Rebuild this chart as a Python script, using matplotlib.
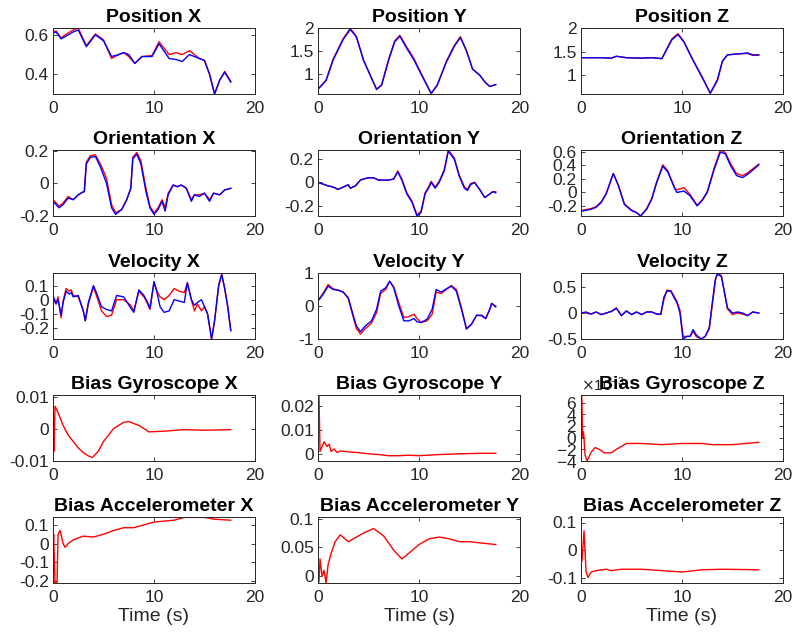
#!/usr/bin/env python3
#
# plot.py - filter states vs. reference, 5x3 grid

import matplotlib
matplotlib.use('Agg')
import matplotlib.pyplot as plt
from matplotlib.ticker import ScalarFormatter

plt.rcParams['font.family'] = ['Liberation Sans', 'DejaVu Sans']
plt.rcParams['axes.unicode_minus'] = False

# ---- data ----
# red = estimate, blue = reference
t_px = [0, 0.3, 0.8, 1.5, 2.0, 2.5, 3.3, 4.2, 5.0, 5.8, 6.5, 7.0, 7.5, 8.1, 8.8, 9.8,
        10.5, 11.5, 12.2, 12.8, 13.5, 14.5, 15.0, 15.5, 16.0, 16.5, 17.0, 17.6]
px_true = [0.61, 0.615, 0.58, 0.60, 0.615, 0.625, 0.54, 0.60, 0.57, 0.49, 0.50, 0.51, 0.50,
           0.455, 0.49, 0.49, 0.555, 0.48, 0.475, 0.465, 0.50, 0.48, 0.47, 0.40, 0.30,
           0.37, 0.41, 0.36]
px_est = [0.615, 0.62, 0.585, 0.61, 0.625, 0.635, 0.545, 0.605, 0.575, 0.48, 0.50, 0.51,
          0.49, 0.455, 0.49, 0.495, 0.565, 0.50, 0.51, 0.50, 0.52, 0.48, 0.47, 0.40, 0.30,
          0.37, 0.415, 0.365]

t_py = [0, 0.8, 1.5, 2.5, 3.2, 3.8, 4.5, 5.2, 5.8, 6.3, 7.0, 7.6, 8.1, 8.8, 9.5, 10.3,
        11.2, 11.8, 12.7, 13.5, 14.1, 14.7, 15.3, 16.0, 16.6, 17.0, 17.6]
py_true = [0.66, 0.85, 1.3, 1.75, 1.97, 1.8, 1.3, 0.95, 0.66, 0.75, 1.3, 1.7, 1.82, 1.55,
           1.3, 0.95, 0.57, 0.75, 1.25, 1.6, 1.79, 1.5, 1.1, 0.97, 0.80, 0.72, 0.76]
py_est = [0.66, 0.86, 1.32, 1.77, 1.99, 1.82, 1.3, 0.95, 0.65, 0.76, 1.32, 1.72, 1.84,
          1.58, 1.33, 0.97, 0.56, 0.74, 1.27, 1.62, 1.81, 1.5, 1.1, 0.97, 0.80, 0.72, 0.76]

t_pz = [0, 1, 2, 3, 3.5, 4.5, 6, 7, 8, 8.5, 9.0, 9.6, 10.2, 11.0, 12.0, 12.8, 13.5, 14.0,
        14.5, 15.5, 16.5, 17.0, 17.6]
pz_true = [1.37, 1.37, 1.37, 1.36, 1.40, 1.37, 1.36, 1.37, 1.35, 1.55, 1.75, 1.86, 1.70,
           1.35, 0.95, 0.62, 0.90, 1.30, 1.43, 1.45, 1.47, 1.43, 1.43]
pz_est = [1.37, 1.37, 1.37, 1.36, 1.40, 1.37, 1.36, 1.37, 1.35, 1.56, 1.77, 1.88, 1.71,
          1.36, 0.96, 0.61, 0.88, 1.29, 1.43, 1.45, 1.46, 1.42, 1.42]

t_ox = [0, 0.6, 1.0, 1.5, 2.0, 2.5, 2.9, 3.1, 3.3, 3.7, 4.2, 4.7, 5.3, 5.8, 6.2, 6.8,
        7.3, 7.7, 7.9, 8.3, 8.7, 9.2, 9.6, 10.0, 10.4, 10.8, 11.1, 11.4, 11.9, 12.3,
        12.7, 13.2, 13.7, 14.0, 14.5, 15.0, 15.5, 15.9, 16.5, 17.0, 17.6]
ox_true = [-0.11, -0.15, -0.13, -0.09, -0.10, -0.07, -0.055, -0.05, 0.12, 0.16, 0.165,
           0.10, 0.0, -0.15, -0.19, -0.16, -0.10, -0.03, 0.15, 0.18, 0.12, -0.05, -0.15,
           -0.19, -0.16, -0.11, -0.17, -0.07, -0.01, -0.02, -0.01, -0.03, -0.11, -0.07,
           -0.08, -0.06, -0.11, -0.06, -0.07, -0.04, -0.03]
ox_est = [-0.10, -0.14, -0.12, -0.08, -0.10, -0.07, -0.055, -0.05, 0.13, 0.17, 0.175,
          0.12, 0.03, -0.13, -0.18, -0.16, -0.10, -0.03, 0.16, 0.19, 0.14, -0.03, -0.14,
          -0.18, -0.15, -0.10, -0.15, -0.06, -0.01, -0.02, -0.01, -0.03, -0.10, -0.07,
          -0.07, -0.06, -0.10, -0.06, -0.07, -0.04, -0.03]

t_oy = [0, 1.0, 1.5, 2.0, 2.5, 3.0, 3.2, 3.7, 4.2, 4.5, 5.0, 5.5, 6.0, 7.0, 7.5, 7.9,
        8.3, 8.8, 9.3, 9.8, 10.2, 10.6, 11.0, 11.2, 11.6, 12.0, 12.5, 12.9, 13.5, 14.0,
        14.5, 14.8, 15.1, 15.5, 16.0, 16.5, 17.0, 17.3, 17.6]
oy_true = [0.0, -0.03, -0.04, -0.06, -0.04, -0.02, -0.05, -0.03, 0.02, 0.03, 0.04, 0.04,
           0.02, 0.02, 0.03, 0.09, 0.02, -0.10, -0.17, -0.29, -0.26, -0.10, -0.04, 0.0,
           -0.05, 0.0, 0.10, 0.27, 0.20, 0.05, -0.05, -0.07, -0.02, 0.0, -0.06, -0.13,
           -0.10, -0.08, -0.09]
oy_est = [0.0, -0.03, -0.04, -0.06, -0.04, -0.02, -0.05, -0.03, 0.02, 0.03, 0.04, 0.04,
          0.02, 0.02, 0.03, 0.10, 0.03, -0.09, -0.16, -0.28, -0.25, -0.09, -0.03, 0.01,
          -0.04, 0.01, 0.11, 0.28, 0.21, 0.06, -0.04, -0.06, -0.01, 0.0, -0.06, -0.13,
          -0.10, -0.08, -0.08]

t_oz = [0, 1.0, 1.5, 2.0, 2.5, 3.2, 3.7, 4.3, 5.0, 5.5, 5.9, 6.5, 7.0, 7.5, 8.1, 8.6,
        9.3, 9.5, 10.2, 10.8, 11.5, 12.0, 12.5, 13.2, 13.8, 14.3, 14.8, 15.4, 16.0, 16.5,
        17.0, 17.6]
oz_true = [-0.28, -0.25, -0.22, -0.15, -0.02, 0.28, 0.10, -0.18, -0.27, -0.30, -0.35,
           -0.25, -0.10, 0.15, 0.39, 0.30, 0.05, 0.0, 0.02, -0.05, -0.20, -0.12, 0.0,
           0.35, 0.60, 0.57, 0.40, 0.25, 0.22, 0.27, 0.33, 0.41]
oz_est = [-0.27, -0.24, -0.21, -0.14, -0.01, 0.28, 0.11, -0.17, -0.26, -0.30, -0.35,
          -0.24, -0.09, 0.16, 0.41, 0.32, 0.06, 0.04, 0.07, -0.03, -0.19, -0.11, 0.01,
          0.37, 0.63, 0.59, 0.43, 0.28, 0.25, 0.29, 0.35, 0.42]

t_vx = [0, 0.3, 0.5, 0.8, 1.0, 1.3, 1.6, 1.8, 2.0, 2.5, 3.0, 3.2, 3.5, 4.0, 4.3, 4.8,
        5.3, 5.8, 6.3, 7.0, 7.7, 8.0, 8.5, 9.0, 9.3, 9.6, 10.0, 10.3, 10.6, 11.0, 11.5,
        12.0, 12.5, 13.0, 13.3, 13.7, 14.0, 14.3, 14.7, 15.0, 15.3, 15.7, 16.0, 16.4,
        16.7, 17.0, 17.3, 17.6]
vx_true = [0.03, -0.03, 0.0, -0.11, -0.02, 0.06, 0.04, 0.05, 0.02, 0.03, -0.08, -0.15,
           -0.02, 0.10, 0.05, -0.05, -0.07, -0.08, 0.03, 0.02, -0.06, -0.09, 0.07, 0.03,
           -0.01, -0.06, 0.13, 0.05, -0.05, -0.09, -0.08, 0.0, -0.01, -0.02, 0.12, 0.0,
           -0.04, -0.02, 0.0, -0.05, -0.10, -0.28, -0.15, 0.10, 0.18, 0.08, -0.05, -0.22]
vx_est = [0.0, -0.03, 0.02, -0.13, -0.01, 0.08, 0.06, 0.07, 0.03, 0.02, -0.08, -0.15,
          -0.03, 0.09, 0.03, -0.08, -0.12, -0.11, 0.0, 0.0, -0.04, -0.08, 0.06, 0.02,
          -0.02, -0.07, 0.12, 0.06, 0.02, 0.0, 0.03, 0.08, 0.06, 0.05, 0.12, 0.0, -0.08,
          -0.03, -0.08, -0.05, -0.10, -0.28, -0.15, 0.10, 0.18, 0.08, -0.05, -0.22]

t_vy = [0, 0.5, 1.0, 1.5, 2.0, 2.5, 3.0, 3.5, 3.8, 4.2, 4.7, 5.3, 5.8, 6.2, 6.7, 7.1,
        7.5, 8.0, 8.5, 9.0, 9.5, 9.8, 10.2, 10.8, 11.3, 11.7, 12.2, 12.7, 13.2, 13.7,
        14.2, 14.7, 15.2, 15.7, 16.2, 16.6, 17.0, 17.2, 17.6]
vy_true = [0.15, 0.35, 0.60, 0.50, 0.48, 0.42, 0.25, -0.30, -0.60, -0.78, -0.60, -0.45,
           -0.10, 0.45, 0.55, 0.75, 0.55, 0.0, -0.45, -0.45, -0.38, -0.48, -0.50, -0.40,
           -0.10, 0.50, 0.42, 0.52, 0.60, 0.45, -0.10, -0.70, -0.55, -0.28, -0.28, -0.38,
           -0.10, 0.08, -0.03]
vy_est = [0.17, 0.38, 0.65, 0.52, 0.48, 0.42, 0.22, -0.35, -0.68, -0.85, -0.68, -0.52,
          -0.20, 0.38, 0.50, 0.75, 0.58, 0.10, -0.35, -0.32, -0.25, -0.38, -0.50, -0.45,
          -0.25, 0.42, 0.38, 0.50, 0.62, 0.50, -0.05, -0.68, -0.55, -0.28, -0.30, -0.38,
          -0.12, 0.08, 0.0]

t_vz = [0, 0.5, 1.0, 1.5, 2.0, 2.5, 3.0, 3.5, 4.0, 4.5, 5.0, 5.5, 6.0, 6.5, 7.0, 7.5,
        7.9, 8.2, 8.5, 8.9, 9.2, 9.5, 9.8, 10.1, 10.5, 10.8, 11.1, 11.4, 11.9, 12.3,
        12.7, 13.0, 13.3, 13.5, 13.9, 14.2, 14.5, 15.0, 15.5, 16.0, 16.5, 17.0, 17.6]
vz_true = [0.0, 0.02, -0.02, 0.02, -0.03, 0.0, 0.03, 0.09, -0.05, 0.04, -0.03, 0.02,
           -0.03, 0.02, 0.02, -0.02, -0.02, 0.30, 0.42, 0.42, 0.30, 0.20, 0.0, -0.50,
           -0.45, -0.45, -0.32, -0.42, -0.50, -0.45, -0.30, 0.20, 0.65, 0.75, 0.70, 0.40,
           0.10, 0.0, 0.02, 0.0, -0.05, 0.02, 0.0]
vz_est = [0.01, 0.0, -0.02, 0.02, -0.03, 0.0, 0.03, 0.10, -0.05, 0.04, -0.03, 0.02,
          -0.03, 0.02, 0.02, -0.02, -0.03, 0.25, 0.44, 0.43, 0.33, 0.22, 0.05, -0.45,
          -0.45, -0.45, -0.35, -0.45, -0.50, -0.45, -0.28, 0.15, 0.62, 0.77, 0.72, 0.40,
          0.08, -0.03, 0.0, -0.02, -0.05, 0.02, 0.0]

t_bgx = [0, 0.05, 0.1, 0.2, 0.5, 1.0, 1.5, 2.0, 2.5, 3.0, 3.5, 3.9, 4.5, 5.0, 6.0, 7.0,
         7.5, 8.5, 9.5, 11.0, 13.0, 15.0, 17.6]
bgx = [0.01, 0.0, -0.007, 0.007, 0.005, 0.001, -0.002, -0.004, -0.006, -0.0075,
       -0.0085, -0.009, -0.007, -0.004, 0.0, 0.002, 0.0022, 0.001, -0.001, -0.0008,
       -0.0003, -0.0005, -0.0003]

t_bgy = [0, 0.1, 0.2, 0.4, 0.6, 0.9, 1.1, 1.3, 1.6, 1.9, 2.2, 3.0, 4.0, 5.0, 6.0, 7.0,
         8.0, 9.0, 10.0, 12.0, 14.0, 16.0, 17.6]
bgy = [0.024, 0.024, 0.001, 0.003, 0.005, 0.003, 0.004, 0.001, 0.002, 0.0005, 0.0012,
       0.0008, 0.0005, 0.0, -0.0003, -0.0008, -0.0008, -0.0006, -0.0008, -0.0003, 0.0,
       0.0002, 0.0002]

t_bgz = [0, 0.08, 0.15, 0.25, 0.4, 0.6, 1.0, 1.4, 1.8, 2.3, 3.0, 3.5, 4.5, 6.0, 8.0,
         10.0, 12.0, 13.0, 15.0, 17.6]
bgz = [0.007, 0.007, 0.0, 0.001, -0.003, -0.004, -0.0025, -0.0017, -0.002, -0.0026,
       -0.0026, -0.002, -0.001, -0.001, -0.0012, -0.001, -0.001, -0.0012, -0.0012,
       -0.0008]

t_bax = [0, 0.03, 0.06, 0.2, 0.4, 0.5, 0.7, 1.0, 1.2, 1.5, 2.0, 3.0, 4.0, 5.0, 6.0,
         7.0, 8.0, 9.0, 10.0, 11.0, 12.0, 13.0, 14.0, 15.0, 16.0, 17.6]
bax = [0.05, 0.0, 0.05, -0.21, -0.21, 0.05, 0.07, 0.0, -0.02, 0.0, 0.02, 0.04, 0.035,
       0.05, 0.07, 0.085, 0.085, 0.10, 0.115, 0.12, 0.125, 0.14, 0.14, 0.14, 0.13, 0.125]

t_bay = [0, 0.1, 0.2, 0.4, 0.6, 0.8, 1.0, 1.3, 1.7, 2.2, 3.0, 3.5, 4.5, 5.5, 6.5, 7.5,
         8.3, 9.0, 10.0, 11.0, 12.0, 13.0, 14.0, 15.0, 16.0, 17.6]
bay = [0.01, -0.01, 0.03, 0.0, 0.01, -0.012, 0.02, 0.04, 0.06, 0.072, 0.06, 0.065,
       0.075, 0.083, 0.07, 0.045, 0.03, 0.04, 0.055, 0.065, 0.068, 0.065, 0.06, 0.06,
       0.058, 0.055]

t_baz = [0, 0.1, 0.3, 0.5, 0.7, 1.0, 1.5, 2.5, 3.0, 4.0, 6.0, 8.0, 10.0, 12.0, 14.0,
         17.6]
baz = [0.0, -0.04, 0.07, -0.08, -0.10, -0.08, -0.075, -0.07, -0.075, -0.07, -0.07,
       -0.075, -0.08, -0.072, -0.07, -0.072]

titles = ['Position X', 'Position Y', 'Position Z',
          'Orientation X', 'Orientation Y', 'Orientation Z',
          'Velocity X', 'Velocity Y', 'Velocity Z',
          'Bias Gyroscope X', 'Bias Gyroscope Y', 'Bias Gyroscope Z',
          'Bias Accelerometer X', 'Bias Accelerometer Y', 'Bias Accelerometer Z']

# ---- figure ----
W, H = 793, 636
fig = plt.figure(figsize=(W / 100, H / 100), dpi=100)
lefts = [53, 318, 581]
tops = [28, 150, 273, 395, 517]
aw, ah = 202, 66

axes = []
for r in range(5):
    for c in range(3):
        ax = fig.add_axes([lefts[c] / W, 1 - (tops[r] + ah) / H, aw / W, ah / H])
        axes.append(ax)

paired = [(t_px, px_est, px_true), (t_py, py_est, py_true), (t_pz, pz_est, pz_true),
          (t_ox, ox_est, ox_true), (t_oy, oy_est, oy_true), (t_oz, oz_est, oz_true),
          (t_vx, vx_est, vx_true), (t_vy, vy_est, vy_true), (t_vz, vz_est, vz_true)]
for ax, (t, est, ref) in zip(axes[:9], paired):
    ax.plot(t, est, color='r', lw=1.0)
    ax.plot(t, ref, color='b', lw=1.0)

single = [(t_bgx, bgx), (t_bgy, bgy), (t_bgz, bgz),
          (t_bax, bax), (t_bay, bay), (t_baz, baz)]
for ax, (t, y) in zip(axes[9:], single):
    ax.plot(t, y, color='r', lw=1.0)

ylims = [(0.30, 0.635), (0.555, 2.0), (0.6, 2.0),
         (-0.2, 0.205), (-0.29, 0.28), (-0.35, 0.63),
         (-0.28, 0.19), (-1.0, 1.0), (-0.5, 0.77),
         (-0.0101, 0.0105), (-0.003, 0.0245), (-0.004, 0.0073),
         (-0.21, 0.142), (-0.012, 0.103), (-0.12, 0.12)]
yticks = [[0.4, 0.6], [1, 1.5, 2], [1, 1.5, 2],
          [-0.2, 0, 0.2], [-0.2, 0, 0.2], [-0.2, 0, 0.2, 0.4, 0.6],
          [-0.2, -0.1, 0, 0.1], [-1, 0, 1], [-0.5, 0, 0.5],
          [-0.01, 0, 0.01], [0, 0.01, 0.02], [-0.004, -0.002, 0, 0.002, 0.004, 0.006],
          [-0.2, -0.1, 0, 0.1], [0, 0.05, 0.1], [-0.1, 0, 0.1]]

for i, ax in enumerate(axes):
    ax.set_xlim(0, 20)
    ax.set_xticks([0, 10, 20])
    ax.set_ylim(*ylims[i])
    ax.set_yticks(yticks[i])
    # fixed y keeps the title where MATLAB puts it, even over the x10^-3 label
    ax.set_title(titles[i], fontsize=14, fontweight='bold', y=1.0, pad=4)
    ax.tick_params(direction='in', top=True, right=True, labelsize=12.5,
                   colors='0.15', length=3, width=0.6, pad=5)
    ax.tick_params(axis='y', pad=3)
    for s in ax.spines.values():
        s.set_color('0.15')
        s.set_linewidth(0.7)
    if i != 11:
        ax.set_yticklabels([('%g' % v) for v in yticks[i]])

# Bias Gyroscope Z uses a x10^-3 multiplier like the original
fmt = ScalarFormatter(useMathText=True)
fmt.set_powerlimits((-3, -3))
axes[11].yaxis.set_major_formatter(fmt)
axes[11].yaxis.get_offset_text().set_fontsize(11)
axes[11].yaxis.get_offset_text().set_color('0.15')

for ax in axes[12:]:
    ax.set_xlabel('Time (s)', fontsize=14, color='0.15', labelpad=2)

fig.savefig('out.png', dpi=100)
